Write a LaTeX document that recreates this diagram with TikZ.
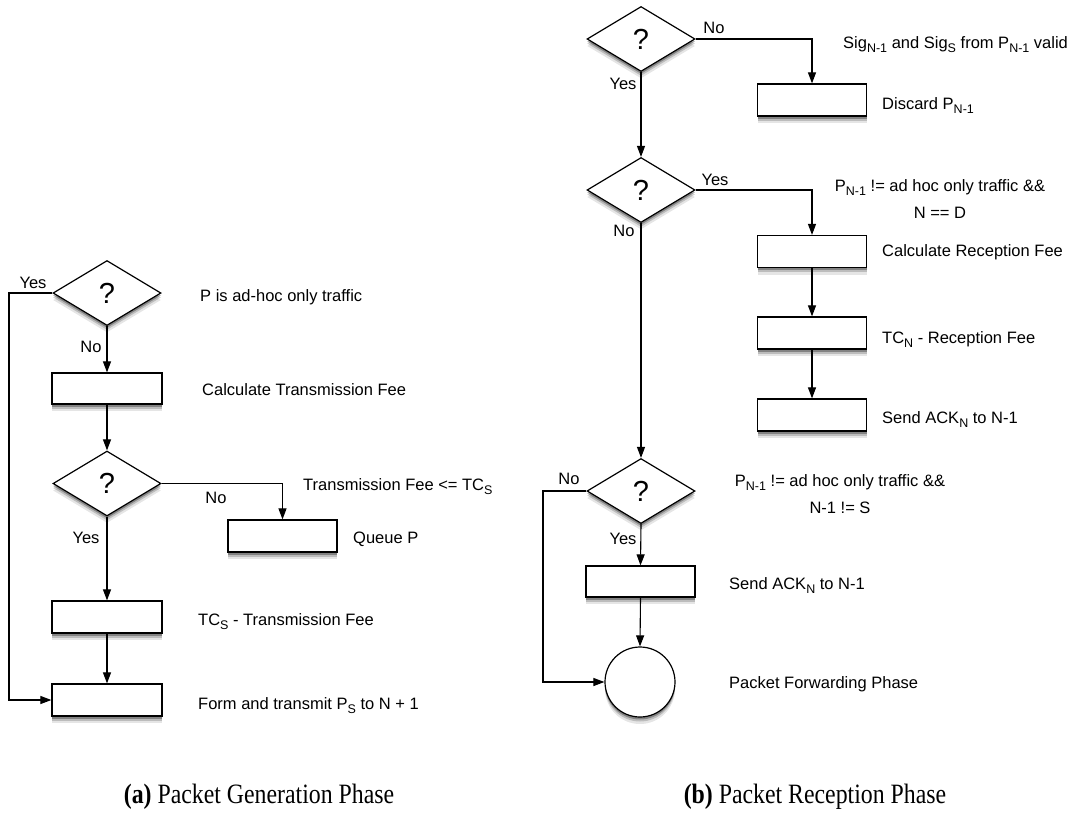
\documentclass[tikz,border=0pt]{standalone}
\usepackage{fontspec}
\setmainfont{Liberation Sans}
\newfontfamily\capfont{Liberation Serif}
\usetikzlibrary{shapes.geometric,arrows.meta}
\newcommand\lsub[1]{\raisebox{-0.3em}{\fontsize{12.5}{13}\selectfont #1}}
\begin{document}
\begin{tikzpicture}[x=1pt,y=-1pt,
  shd/.style={preaction={fill=black,opacity=0.10,transform canvas={yshift=-7pt}},
              preaction={fill=black,opacity=0.18,transform canvas={yshift=-4.5pt}},
              preaction={fill=black,opacity=0.30,transform canvas={yshift=-2.5pt}}},
  box/.style={draw,line width=1.2pt,fill=white,minimum width=109pt,minimum height=32pt,inner sep=0pt,shd},
  dec/.style={diamond,draw,line width=1.2pt,fill=white,minimum width=108pt,minimum height=65pt,inner sep=0pt,
              font=\fontsize{29}{32}\selectfont,shd},
  term/.style={circle,draw,line width=1.2pt,fill=white,minimum size=70pt,inner sep=0pt,shd},
  arr/.style={line width=1.1pt,-{Triangle[length=11pt,width=8pt]}},
  txt/.style={font=\fontsize{16.5}{20}\selectfont,inner sep=0pt,anchor=base west},
  yn/.style={font=\fontsize{16.5}{20}\selectfont,inner sep=0pt,anchor=base},
  captxt/.style={font=\capfont\fontsize{28}{32}\selectfont,inner sep=0pt,anchor=base}]
\useasboundingbox (0,0) rectangle (1081,814);

% ---------- (a) Packet Generation Phase ----------
\node[dec] (d1) at (107,293) {?};
\node[box,minimum width=110pt,minimum height=31pt] (calc) at (107,388.5) {};
\node[dec] (d2) at (107,483.5) {?};
\node[box] (queue) at (282.5,536) {};
\node[box,minimum width=110pt] (tcs) at (107,617) {};
\node[box,minimum width=110pt] (form) at (107,700) {};
\coordinate (l1) at (9,293);

\draw[arr] (d1.south) -- (calc.north);
\draw[arr] (calc.south) -- (d2.north);
\draw[arr] (d2.east) -| (queue.north);
\draw[arr] (d2.south) -- (tcs.north);
\draw[arr] (tcs.south) -- (form.north);
\draw[arr] (d1.west) -- (l1) |- (form.west);

\node[yn] (y1) at (33,288) {Yes};
\node[yn] (n1) at (91,352) {No};
\node[yn] (n2) at (216,503) {No};
\node[yn] (y2) at (86,543) {Yes};

\node[txt] (t1) at (200,301) {P is ad-hoc only traffic};
\node[txt] (t2) at (202,395) {Calculate Transmission Fee};
\node[txt] (t3) at (303,490) {Transmission Fee <= TC\lsub{S}};
\node[txt] (t4) at (353,543) {Queue P};
\node[txt] (t5) at (198,625) {TC\lsub{S} - Transmission Fee};
\node[txt] (t6) at (198,709) {Form and transmit P\lsub{S} to N + 1};

% ---------- (b) Packet Reception Phase ----------
\node[dec] (da) at (641,39) {?};
\node[box] (discard) at (812,100) {};
\node[dec] (db) at (641,190) {?};
\node[box] (crf) at (812,251.5) {};
\node[box] (tcn) at (812,333) {};
\node[box] (ack1) at (812,415) {};
\node[dec] (dc) at (641,491) {?};
\node[box,minimum height=31pt] (ack2) at (640.5,581.5) {};
\node[term] (pfp) at (640,682) {};
\coordinate (r1) at (543,491);

\draw[arr] (da.east) -| (discard.north);
\draw[arr] (da.south) -- (db.north);
\draw[arr] (db.east) -| (crf.north);
\draw[arr] (crf.south) -- (tcn.north);
\draw[arr] (tcn.south) -- (ack1.north);
\draw[arr] (db.south) -- (dc.north);
\draw[arr] (dc.south) -- (ack2.north);
\draw[arr] (ack2.south) -- (pfp.north);
\draw[arr] (dc.west) -- (r1) |- (pfp.west);

\node[yn] (n3) at (714,33) {No};
\node[yn] (y3) at (623,89) {Yes};
\node[yn] (y4) at (715,185) {Yes};
\node[yn] (n4) at (624,236) {No};
\node[yn] (n5) at (569,484) {No};
\node[yn] (y5) at (623,544) {Yes};

\node[txt] (s1) at (843,48) {Sig\lsub{N-1} and Sig\lsub{S} from P\lsub{N-1} valid};
\node[txt] (s2) at (882,109) {Discard P\lsub{N-1}};
\node[yn] (s3) at (940,191) {P\lsub{N-1} != ad hoc only traffic \&\&};
\node[yn] (s3b) at (940,218) {N == D};
\node[txt] (s4) at (882,256) {Calculate Reception Fee};
\node[txt] (s5) at (882,343) {TC\lsub{N} - Reception Fee};
\node[txt] (s6) at (882,423) {Send ACK\lsub{N} to N-1};
\node[yn] (s7) at (840,486) {P\lsub{N-1} != ad hoc only traffic \&\&};
\node[yn] (s7b) at (840,513) {N-1 != S};
\node[txt] (s8) at (729,589) {Send ACK\lsub{N} to N-1};
\node[txt] (s9) at (729,688) {Packet Forwarding Phase};

% ---------- captions ----------
\node[captxt] (ca) at (259,803) {\scalebox{0.85}[1]{\textbf{(a)} Packet Generation Phase}};
\node[captxt] (cb) at (815,803) {\scalebox{0.85}[1]{\textbf{(b)} Packet Reception Phase}};
\end{tikzpicture}
\end{document}
